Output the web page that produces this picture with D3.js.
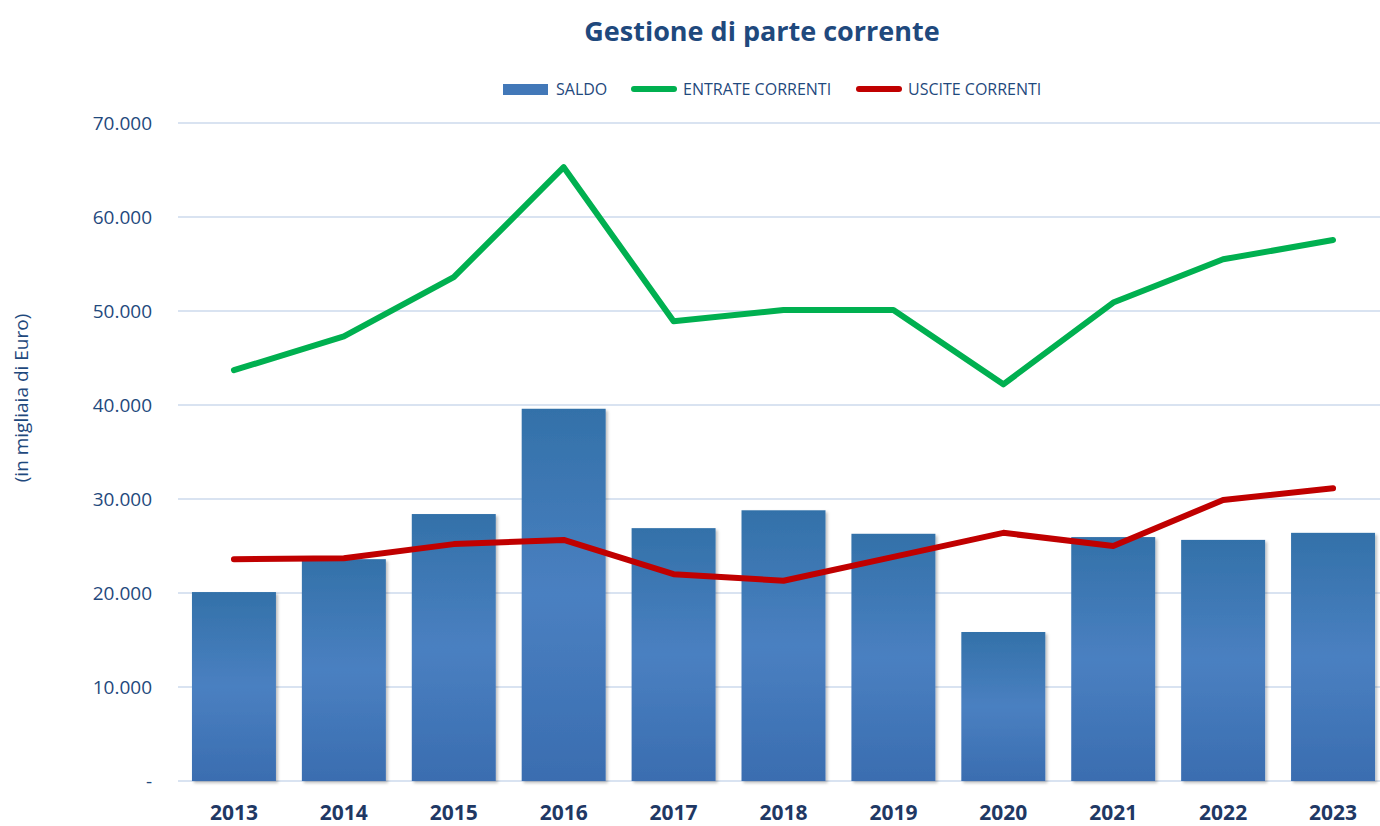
<!DOCTYPE html>
<html>
<head>
<meta charset="utf-8">
<script src="https://cdn.jsdelivr.net/npm/d3@7"></script>
<style>
  body { margin: 0; background: #fff; }
  svg { display: block; font-family: "Open Sans", "Liberation Sans", sans-serif; }
</style>
</head>
<body>
<div id="chart"></div>
<script>
const years = ["2013", "2014", "2015", "2016", "2017", "2018", "2019", "2020", "2021", "2022", "2023"];
const saldo = [20100, 23600, 28400, 39600, 26900, 28800, 26300, 15850, 25950, 25650, 26400];
const entrate = [43700, 47300, 53600, 65300, 48900, 50100, 50100, 42200, 50900, 55500, 57550];
const uscite = [23600, 23700, 25200, 25650, 22000, 21300, 23850, 26400, 25000, 29900, 31150];
const yTicks = [0, 10000, 20000, 30000, 40000, 50000, 60000, 70000];

const W = 1380, H = 826;
const textCol = "#1F497D";

const svg = d3.select("#chart").append("svg")
  .attr("width", W).attr("height", H);

const x = d3.scaleBand()
  .domain(years)
  .range([179, 1388])
  .paddingInner(0.236)
  .paddingOuter(0.118);

const y = d3.scaleLinear()
  .domain([0, 70000])
  .range([781, 123]);

// gradient for bars
const defs = svg.append("defs");
const grad = defs.append("linearGradient")
  .attr("id", "barGrad")
  .attr("x1", 0).attr("y1", 0).attr("x2", 0).attr("y2", 1);
grad.append("stop").attr("offset", "0%").attr("stop-color", "#3371A9");
grad.append("stop").attr("offset", "50%").attr("stop-color", "#4A80C1");
grad.append("stop").attr("offset", "100%").attr("stop-color", "#3A6DB0");

const shadow = defs.append("filter").attr("id", "shadow")
  .attr("x", "-10%").attr("y", "-10%").attr("width", "130%").attr("height", "130%");
shadow.append("feDropShadow")
  .attr("dx", 2).attr("dy", 2).attr("stdDeviation", 1.5)
  .attr("flood-color", "#000").attr("flood-opacity", 0.25);

// =========================
// GRID + Y AXIS
// =========================
svg.selectAll(".grid")
  .data(yTicks)
  .join("line")
  .attr("class", "grid")
  .attr("x1", 178).attr("x2", W)
  .attr("y1", d => y(d)).attr("y2", d => y(d))
  .attr("stroke", "#D9E3F1")
  .attr("stroke-width", 2);

const fmt = d => d === 0 ? "-" : d3.format(",")(d).replace(/,/g, ".");

svg.selectAll(".ytick")
  .data(yTicks)
  .join("text")
  .attr("class", "ytick")
  .attr("x", 152)
  .attr("y", d => y(d))
  .attr("dy", "0.35em")
  .attr("text-anchor", "end")
  .style("fill", textCol)
  .style("font-size", "19px")
  .text(fmt);

svg.append("text")
  .attr("transform", "translate(28,398) rotate(-90)")
  .attr("text-anchor", "middle")
  .style("fill", textCol)
  .style("font-size", "19px")
  .text("(in migliaia di Euro)");

// =========================
// BARS
// =========================
svg.selectAll(".bar")
  .data(saldo)
  .join("rect")
  .attr("class", "bar")
  .attr("x", (d, i) => x(years[i]))
  .attr("y", d => y(d))
  .attr("width", x.bandwidth())
  .attr("height", d => y(0) - y(d))
  .attr("fill", "url(#barGrad)")
  .attr("filter", "url(#shadow)");

// =========================
// LINES
// =========================
const line = d3.line()
  .x((d, i) => x(years[i]) + x.bandwidth() / 2)
  .y(d => y(d));

[[entrate, "#00B050"], [uscite, "#C00000"]].forEach(([vals, col]) => {
  svg.append("path")
    .datum(vals)
    .attr("d", line)
    .attr("fill", "none")
    .attr("stroke", col)
    .attr("stroke-width", 6)
    .attr("stroke-linecap", "round")
    .attr("stroke-linejoin", "round");
});

// =========================
// X LABELS
// =========================
svg.selectAll(".xlab")
  .data(years)
  .join("text")
  .attr("class", "xlab")
  .attr("x", d => x(d) + x.bandwidth() / 2)
  .attr("y", 813)
  .attr("dy", "0.35em")
  .attr("text-anchor", "middle")
  .style("fill", "#1F3864")
  .style("font-size", "21px")
  .style("font-weight", "700")
  .text(d => d);

// =========================
// TITLE + LEGEND
// =========================
svg.append("text")
  .attr("x", 762)
  .attr("y", 32)
  .attr("dy", "0.35em")
  .attr("text-anchor", "middle")
  .style("fill", textCol)
  .style("font-size", "27px")
  .style("font-weight", "700")
  .text("Gestione di parte corrente");

const legend = [
  { label: "SALDO", type: "bar", col: "url(#barGrad)", x: 503, tx: 556 },
  { label: "ENTRATE CORRENTI", type: "line", col: "#00B050", x: 631, tx: 683 },
  { label: "USCITE CORRENTI", type: "line", col: "#C00000", x: 856, tx: 908 }
];

legend.forEach(l => {
  if (l.type === "bar") {
    svg.append("rect")
      .attr("x", l.x).attr("y", 84)
      .attr("width", 45).attr("height", 11)
      .attr("fill", "#4278B8");
  } else {
    svg.append("line")
      .attr("x1", l.x + 3).attr("x2", l.x + 43)
      .attr("y1", 89).attr("y2", 89)
      .attr("stroke", l.col)
      .attr("stroke-width", 6)
      .attr("stroke-linecap", "round");
  }
  svg.append("text")
    .attr("x", l.tx)
    .attr("y", 89)
    .attr("dy", "0.35em")
    .style("fill", textCol)
    .style("font-size", "16px")
    .text(l.label);
});
</script>
</body>
</html>
